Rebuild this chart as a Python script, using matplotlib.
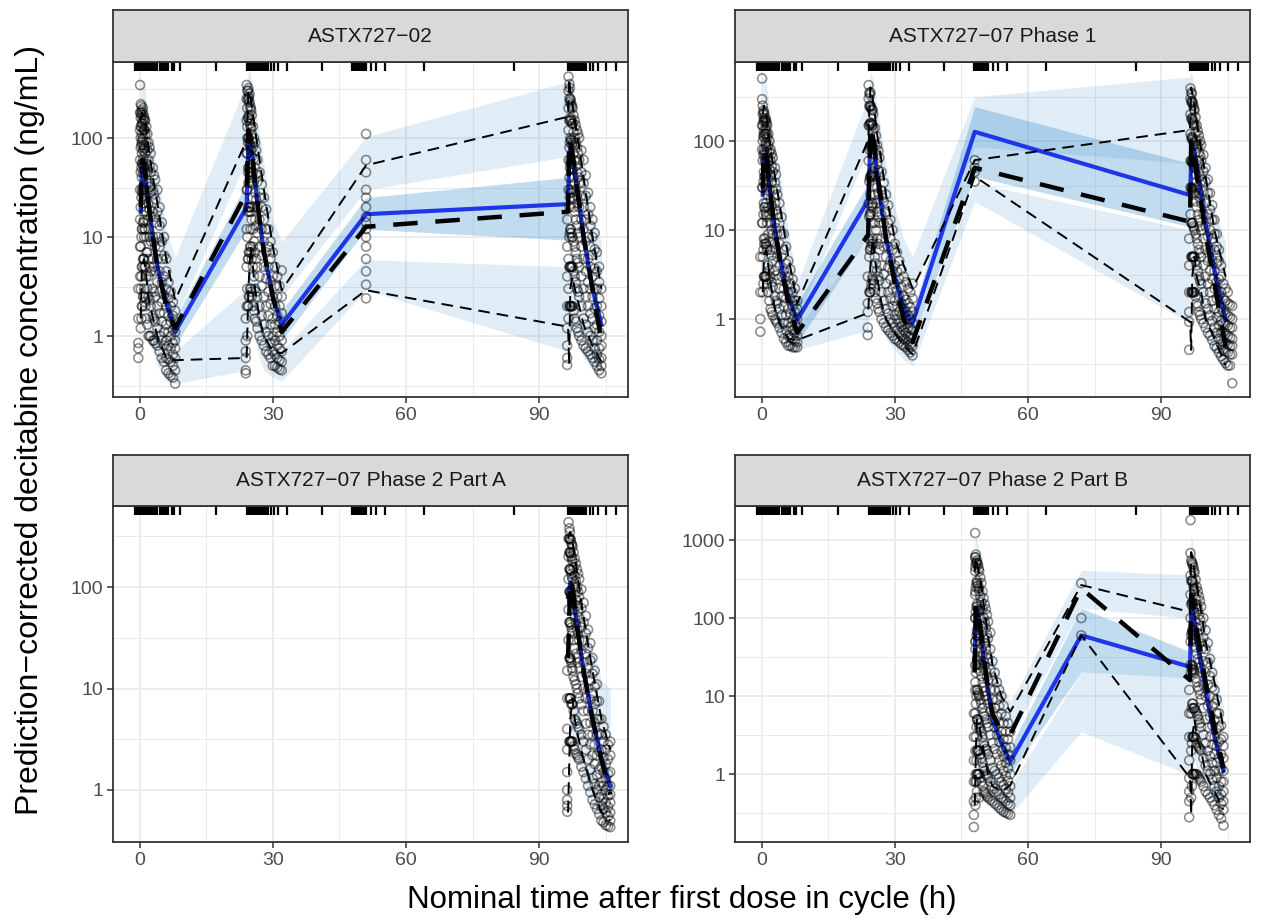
import numpy as np
import matplotlib.pyplot as plt

plt.rcParams['font.family'] = ['Liberation Sans', 'DejaVu Sans']

# ---- panel titles / axes ----
titles = ['ASTX727\u221202', 'ASTX727\u221207 Phase 1',
          'ASTX727\u221207 Phase 2 Part A', 'ASTX727\u221207 Phase 2 Part B']
x_ticks = [0, 30, 60, 90]
x_minor = [15, 45, 75, 105]

# bin separators shown as rug at top (same in all panels)
rug_t = [-1.1, -0.8, -0.5, -0.2, 0.1, 0.4, 0.7, 1.0, 1.3, 1.6, 2.0, 2.4, 2.8, 3.2, 3.6, 4.0,
         4.5, 5.0, 5.5, 6.0, 6.5, 7.2, 7.7, 9.0, 17.2,
         24.2, 24.5, 24.8, 25.1, 25.4, 25.8, 26.2, 26.6, 27.0, 27.5, 28.0, 28.5, 29.0, 29.5,
         30.3, 31.2, 33.2, 41.0,
         47.9, 48.2, 48.5, 48.8, 49.1, 49.4, 49.8, 50.2, 50.6, 51.0, 52.0, 53.3, 55.2,
         64.1, 84.3,
         96.5, 96.8, 97.1, 97.4, 97.7, 98.0, 98.4, 98.8, 99.2, 99.6, 100.0, 100.6,
         101.4, 102.2, 103.3, 105.1, 107.4]

# ---- panel 1: ASTX727-02 ----
p1_t = [0.25, 0.5, 1, 1.5, 2, 3, 4, 6, 8,
        24.1, 24.5, 25, 25.5, 26, 27, 28, 30, 32,
        51,
        96.5, 96.75, 97, 97.5, 98, 99, 100, 102, 104]
p1_obs_hi = [150, 180, 170, 120, 80, 40, 22, 6, 2.3, 95, 300, 250, 180, 120, 60, 30, 8, 2.9,
             53, 164, 400, 300, 220, 150, 80, 40, 10, 3]
p1_obs_md = [20, 60, 55, 35, 22, 10, 5, 2, 1.2, 28, 120, 100, 60, 35, 15, 7, 2.5, 1.1,
             12.7, 18, 100, 90, 70, 45, 22, 10, 3, 0.9]
p1_obs_lo = [1.5, 5, 6, 4, 2.5, 1.5, 1, 0.6, 0.57, 0.6, 3, 8, 5, 3, 1.5, 1, 0.7, 0.67,
             2.9, 1.24, 0.51, 3, 4, 3, 2, 1.3, 0.8, 0.55]
p1_sim_md = [18, 50, 55, 35, 22, 10, 5, 2.2, 1.1, 20, 90, 90, 60, 35, 15, 7, 2.5, 1.3,
             17, 21.5, 67, 80, 65, 45, 22, 10, 3, 1.3]
p1_hi_lo = [60, 100, 100, 70, 45, 22, 12, 3, 1.5, 60, 200, 180, 120, 70, 35, 17, 5, 2.5,
            30, 65, 200, 200, 150, 100, 50, 25, 6, 2]
p1_hi_hi = [350, 400, 350, 250, 160, 80, 45, 12, 6.3, 360, 500, 450, 320, 220, 110, 55, 15, 9,
            103, 370, 500, 450, 350, 250, 130, 65, 18, 8.7]
p1_md_lo = [10, 35, 40, 25, 15, 7, 3.5, 1.6, 0.8, 12, 60, 60, 40, 25, 10, 5, 1.8, 0.9,
            12, 9.3, 45, 55, 45, 30, 15, 7, 2, 0.9]
p1_md_hi = [30, 70, 75, 50, 32, 14, 7, 3, 1.5, 35, 130, 120, 85, 50, 22, 10, 3.5, 1.8,
            25, 40, 100, 110, 90, 60, 30, 14, 4, 1.6]
p1_lo_lo = [0.8, 1.5, 2, 1.5, 1, 0.7, 0.5, 0.35, 0.33, 0.45, 1, 1.5, 1.2, 0.9, 0.6, 0.45, 0.38, 0.35,
            2.9, 0.7, 0.5, 1, 1.2, 1, 0.8, 0.6, 0.45, 0.4]
p1_lo_hi = [4, 8, 10, 7, 5, 3, 2, 1, 0.7, 3, 6, 10, 8, 5, 3, 2, 1, 0.7,
            5.9, 5, 4, 8, 8, 6, 4, 2.5, 1.2, 0.7]
p1_obs = [
    (-0.3, [0.6, 0.75, 0.85, 1.5, 3]),
    (0.1, [4, 8, 15, 30, 60, 120, 343, 180]),
    (0.25, [1.2, 3, 8, 20, 45, 80, 130, 180, 220, 160, 100]),
    (0.4, [1.5, 4, 10, 25, 50, 85, 130, 170, 210]),
    (0.5, [2, 5, 12, 30, 55, 90, 140, 190, 70, 110, 40]),
    (0.6, [2, 5, 12, 28, 55, 95, 140, 180]),
    (0.75, [2.5, 6, 14, 32, 60, 100, 150, 200, 45, 75]),
    (0.9, [2.5, 6, 14, 30, 55, 85, 125, 170]),
    (1.0, [3, 6, 15, 30, 50, 80, 120, 160, 22, 10]),
    (1.1, [2.2, 5, 12, 26, 48, 78, 120, 150]),
    (1.25, [2, 5, 12, 25, 45, 70, 110, 150, 18]),
    (1.5, [1.5, 4, 10, 20, 35, 55, 90, 130, 7]),
    (1.75, [1.3, 3, 7, 15, 28, 45, 75, 110]),
    (2.0, [1, 2.5, 6, 12, 22, 35, 60, 90, 4]),
    (2.25, [1, 2.3, 5, 10, 19, 32, 52, 80]),
    (2.5, [1, 2, 4.5, 9, 16, 28, 45, 70]),
    (3.0, [0.9, 1.6, 3, 6, 10, 18, 30, 50]),
    (3.25, [0.9, 1.5, 2.8, 5, 9, 16, 27, 42]),
    (3.5, [0.85, 1.4, 2.5, 4.5, 8, 14, 24, 38]),
    (4.0, [0.8, 1.2, 2, 3.5, 6, 10, 18, 30]),
    (4.5, [0.7, 1, 1.7, 2.8, 4.5, 8, 13, 20]),
    (5.0, [0.6, 0.9, 1.4, 2.2, 3.5, 6, 9, 14]),
    (5.5, [0.55, 0.8, 1.1, 1.7, 2.6, 4, 6.5, 10]),
    (6.0, [0.45, 0.6, 0.9, 1.3, 2, 3, 4.5, 6]),
    (6.5, [0.42, 0.58, 0.8, 1.1, 1.6, 2.4, 3.5]),
    (7.0, [0.4, 0.55, 0.75, 1, 1.4, 2, 2.8]),
    (7.5, [0.38, 0.5, 0.65, 0.85, 1.15, 1.6, 2.2]),
    (8.0, [0.33, 0.45, 0.6, 0.75, 0.9, 1.1, 1.4, 1.8]),
    (23.9, [0.42, 0.45, 0.6, 0.7, 0.9, 1.5]),
    (24.1, [2, 5, 12, 30, 70, 150, 343, 250]),
    (24.25, [1, 3, 10, 30, 70, 130, 200, 300, 100]),
    (24.4, [2, 6, 18, 45, 90, 160, 240, 300]),
    (24.5, [2, 6, 20, 50, 100, 160, 250, 320, 35]),
    (24.6, [2.5, 7, 20, 50, 100, 170, 260]),
    (24.75, [2.5, 7, 18, 45, 90, 150, 230, 280]),
    (24.9, [3, 8, 20, 45, 85, 140, 210]),
    (25.0, [3, 8, 20, 45, 80, 130, 200, 12]),
    (25.1, [2.8, 7, 18, 40, 75, 125, 190]),
    (25.25, [2.5, 6, 15, 35, 65, 110, 170]),
    (25.5, [2, 5, 12, 25, 45, 80, 130, 8]),
    (25.75, [1.8, 4, 9, 20, 36, 62, 100]),
    (26.0, [1.5, 3, 7, 15, 28, 50, 90]),
    (26.25, [1.4, 2.8, 6, 13, 24, 43, 75]),
    (26.5, [1.2, 2.5, 5, 11, 20, 36, 60]),
    (27.0, [1, 2, 4, 8, 15, 25, 45]),
    (27.5, [0.9, 1.6, 3.2, 6.5, 12, 20, 34]),
    (28.0, [0.8, 1.3, 2.5, 5, 9, 15, 25]),
    (28.5, [0.7, 1.1, 2, 3.8, 7, 12, 19]),
    (29.0, [0.65, 1, 1.6, 2.8, 5, 8, 12]),
    (29.5, [0.6, 0.85, 1.3, 2.1, 3.6, 6, 9]),
    (30.0, [0.5, 0.7, 1, 1.5, 2.5, 4, 7]),
    (30.5, [0.5, 0.65, 0.9, 1.3, 2, 3.2, 5]),
    (31.0, [0.48, 0.6, 0.8, 1.1, 1.6, 2.5, 4]),
    (31.5, [0.46, 0.57, 0.75, 1, 1.4, 2, 3.2]),
    (32.0, [0.45, 0.55, 0.7, 0.9, 1.2, 1.7, 2.5, 4.6]),
    (51.0, [2.4, 3.3, 4.5, 6, 8, 10, 12, 14, 16, 20, 25, 30, 45, 60, 110]),
    (96.3, [0.51, 0.6, 0.8, 1.2, 2, 4, 8, 15]),
    (96.6, [1.5, 3, 6, 30, 60, 120, 200, 300, 417]),
    (96.8, [2, 5, 10, 20, 40, 80, 150, 250, 350]),
    (96.9, [2, 5, 11, 25, 50, 90, 150, 230, 320]),
    (97.0, [2, 5, 12, 30, 60, 100, 160, 250]),
    (97.1, [2, 5, 12, 28, 55, 95, 155, 240]),
    (97.25, [2, 5, 11, 28, 55, 95, 150, 220]),
    (97.4, [2, 5, 10, 24, 48, 85, 140, 210]),
    (97.5, [2, 5, 10, 25, 50, 90, 140, 200]),
    (97.75, [1.8, 4.5, 9, 20, 40, 70, 115, 170]),
    (98.0, [1.5, 4, 8, 18, 35, 60, 100, 150]),
    (98.25, [1.4, 3.5, 7, 15, 30, 52, 90, 135]),
    (98.5, [1.2, 3, 6, 13, 26, 45, 80, 120]),
    (98.75, [1.1, 2.8, 5.5, 11, 22, 40, 70, 110]),
    (99.0, [1, 2.5, 5, 10, 20, 35, 60, 100]),
    (99.5, [0.9, 2, 4, 8, 15, 26, 45, 75]),
    (100.0, [0.8, 1.5, 3, 6, 12, 20, 35, 60]),
    (100.5, [0.75, 1.3, 2.5, 4.5, 9, 15, 26, 42]),
    (101.0, [0.7, 1.1, 2, 3.5, 6, 10, 17, 28]),
    (101.5, [0.65, 1, 1.7, 3, 5, 8, 13, 20]),
    (102.0, [0.6, 0.9, 1.5, 2.5, 4, 6.6, 10, 15]),
    (102.5, [0.55, 0.75, 1.2, 1.9, 3, 4.8, 7.5, 11]),
    (103.0, [0.5, 0.65, 0.9, 1.3, 2, 3, 4.5, 7]),
    (103.5, [0.45, 0.58, 0.75, 1.1, 1.6, 2.4, 3.5, 5]),
    (104.0, [0.42, 0.5, 0.6, 0.8, 1, 1.4, 2, 3]),
]

# ---- panel 2: ASTX727-07 Phase 1 ----
p2_t = [0.25, 0.5, 1, 1.5, 2, 3, 4, 6, 8,
        24, 24.5, 25, 25.5, 26, 27, 28, 30, 32, 34,
        48,
        96.5, 96.75, 97, 97.5, 98, 99, 100, 102, 104.5]
p2_obs_hi = [200, 250, 200, 130, 80, 40, 20, 5, 1.5, 102, 400, 300, 200, 120, 60, 25, 8, 4, 2.2,
             61, 133, 400, 350, 250, 160, 80, 40, 10, 3]
p2_obs_md = [30, 80, 70, 45, 25, 10, 5, 1.5, 0.7, 8.8, 150, 120, 80, 45, 20, 8, 2.5, 1, 0.55,
             50, 12.4, 100, 90, 65, 40, 20, 9, 2.5, 0.49]
p2_obs_lo = [2, 5, 6, 4, 2.5, 1.3, 0.9, 0.6, 0.58, 1.17, 4, 8, 5, 3, 1.5, 1, 0.7, 0.5, 0.4,
             40, 0.93, 0.45, 3, 5, 3, 2, 1, 0.6, 0.3]
p2_sim_md = [25, 70, 65, 40, 25, 10, 5, 1.8, 0.97, 21.7, 100, 100, 70, 40, 18, 8, 3, 1.3, 0.9,
             127, 24.7, 60, 90, 75, 50, 25, 12, 3.5, 0.97]
p2_hi_lo = [100, 150, 130, 90, 55, 28, 14, 3, 1, 80, 250, 200, 140, 80, 40, 18, 6, 3, 2,
            86, 56, 250, 220, 170, 110, 55, 28, 7, 2]
p2_hi_hi = [500, 600, 450, 300, 180, 90, 45, 10, 2.5, 316, 600, 500, 380, 250, 120, 55, 18, 8, 5,
            315, 525, 600, 550, 400, 280, 140, 70, 18, 7.2]
p2_md_lo = [15, 45, 45, 28, 17, 7, 3.5, 1.2, 0.54, 8.4, 70, 70, 50, 28, 12, 5, 2, 0.9, 0.6,
            40, 10.9, 40, 60, 50, 35, 17, 8, 2.3, 0.7]
p2_md_hi = [40, 100, 90, 60, 35, 15, 7, 2.5, 1.5, 33.7, 150, 140, 100, 55, 25, 11, 4, 1.8, 1.2,
            243, 56, 90, 130, 110, 75, 36, 17, 5, 1.4]
p2_lo_lo = [1, 2, 3, 2, 1.5, 0.9, 0.6, 0.45, 0.45, 0.75, 1.5, 2.5, 2, 1.4, 0.9, 0.6, 0.45, 0.35, 0.3,
            21, 0.9, 0.5, 1.5, 2, 1.5, 1, 0.7, 0.4, 0.25]
p2_lo_hi = [6, 12, 14, 9, 6, 3, 2, 1, 0.8, 8, 10, 15, 10, 7, 4, 2.5, 1.3, 0.8, 0.6,
            34, 10, 5, 10, 10, 7, 4.5, 2.5, 1.2, 0.6]
p2_obs = [
    (-0.3, [0.72, 1, 2, 5]),
    (0.1, [12, 30, 80, 150, 295, 505]),
    (0.25, [2, 5, 12, 30, 60, 100, 150, 200, 250]),
    (0.4, [2.5, 6, 15, 35, 70, 115, 165, 220]),
    (0.5, [3, 8, 20, 45, 80, 130, 180, 210, 110]),
    (0.6, [3, 7, 18, 40, 75, 120, 170, 200]),
    (0.75, [3, 8, 18, 40, 70, 120, 170, 60]),
    (0.9, [3, 7, 16, 33, 60, 95, 140, 180]),
    (1.0, [3, 7, 15, 30, 55, 90, 130, 170, 20]),
    (1.1, [2.8, 6.5, 14, 28, 50, 85, 120, 160]),
    (1.25, [2.5, 6, 12, 25, 45, 75, 110, 150]),
    (1.5, [2, 4, 9, 18, 35, 60, 90, 120]),
    (1.75, [1.6, 3.5, 7.5, 15, 28, 48, 75, 100]),
    (2.0, [1.3, 3, 6, 12, 22, 40, 60, 80]),
    (2.25, [1.2, 2.6, 5.2, 10, 19, 34, 52, 72]),
    (2.5, [1.1, 2.3, 4.5, 9, 16, 28, 45, 65]),
    (3.0, [1, 1.8, 3.5, 7, 12, 20, 34, 50]),
    (3.25, [0.95, 1.6, 3.1, 6, 10.5, 17, 29, 42]),
    (3.5, [0.9, 1.5, 2.8, 5, 9, 15, 25]),
    (4.0, [0.8, 1.3, 2.2, 4, 7, 12, 20]),
    (4.5, [0.7, 1.1, 1.8, 3, 5, 9, 14]),
    (5.0, [0.6, 0.9, 1.4, 2.2, 3.5, 6, 9]),
    (5.5, [0.55, 0.75, 1.1, 1.7, 2.7, 4.2, 6.5]),
    (6.0, [0.5, 0.65, 0.9, 1.3, 2, 3, 4.5]),
    (6.5, [0.5, 0.62, 0.82, 1.15, 1.7, 2.5, 3.6]),
    (7.0, [0.48, 0.6, 0.75, 1, 1.4, 2, 2.8]),
    (7.5, [0.48, 0.57, 0.7, 0.9, 1.2, 1.6, 2.2]),
    (8.0, [0.48, 0.55, 0.65, 0.8, 1, 1.3, 1.6]),
    (23.9, [0.66, 0.8, 1.2, 1.5, 3]),
    (24.1, [8, 20, 60, 150, 300, 425]),
    (24.25, [2, 5, 14, 35, 80, 150, 250, 350]),
    (24.4, [2, 6, 15, 38, 85, 155, 240, 330]),
    (24.5, [2, 6, 15, 40, 90, 160, 250, 350, 25]),
    (24.6, [2.2, 6.5, 16, 40, 88, 158, 245]),
    (24.75, [2.5, 7, 18, 42, 90, 155, 230]),
    (24.9, [2.8, 7.5, 19, 43, 88, 150, 225]),
    (25.0, [3, 8, 20, 45, 90, 150, 220, 12]),
    (25.1, [2.7, 7, 18, 40, 80, 135, 200]),
    (25.5, [2, 5, 12, 25, 50, 90, 140]),
    (25.75, [1.7, 4.2, 10, 20, 40, 70, 115]),
    (26.0, [1.5, 3.5, 8, 16, 30, 55, 90]),
    (26.25, [1.3, 3, 7, 14, 26, 47, 78]),
    (26.5, [1.2, 2.7, 6, 12, 22, 40, 65]),
    (27.0, [1, 2, 4, 8, 15, 28, 45]),
    (27.5, [0.9, 1.6, 3.2, 6.5, 12, 21, 34]),
    (28.0, [0.8, 1.3, 2.5, 5, 9, 16, 25]),
    (28.5, [0.75, 1.15, 2, 3.8, 6.5, 12, 19]),
    (29.0, [0.7, 1, 1.7, 2.8, 4.5, 8, 13]),
    (29.5, [0.65, 0.9, 1.4, 2.2, 3.5, 6, 10]),
    (30.0, [0.6, 0.8, 1.1, 1.6, 2.5, 4, 7]),
    (30.5, [0.58, 0.75, 1, 1.4, 2.1, 3.4, 5.6]),
    (31.0, [0.55, 0.7, 0.9, 1.2, 1.8, 2.8, 4.5]),
    (31.5, [0.52, 0.65, 0.82, 1.1, 1.5, 2.3, 3.6]),
    (32.0, [0.5, 0.6, 0.75, 0.95, 1.3, 1.8, 3]),
    (32.5, [0.48, 0.58, 0.7, 0.88, 1.2, 1.65, 2.6]),
    (33.0, [0.45, 0.55, 0.65, 0.8, 1.1, 1.5, 2.2]),
    (33.5, [0.42, 0.52, 0.62, 0.78, 1, 1.35, 2]),
    (34.0, [0.39, 0.5, 0.6, 0.75, 0.9, 1.2, 1.7, 2.5]),
    (48.0, [35, 45, 50, 61]),
    (96.3, [0.45, 0.93, 1.2, 2, 4, 8]),
    (96.6, [15, 30, 60, 120, 200, 300, 390]),
    (96.8, [2, 5, 12, 30, 60, 110, 180, 280, 350]),
    (96.9, [2, 5, 12, 28, 58, 105, 175, 270, 340]),
    (97.0, [2, 5, 12, 30, 60, 110, 180, 280]),
    (97.1, [2, 5, 12, 29, 58, 105, 170, 265]),
    (97.25, [2, 5, 11, 27, 55, 100, 160, 250]),
    (97.4, [2, 5, 10.5, 26, 52, 95, 155, 230]),
    (97.5, [2, 5, 10, 25, 50, 90, 150, 220]),
    (97.75, [1.8, 4.5, 9, 21, 42, 75, 125, 185]),
    (98.0, [1.5, 4, 8, 18, 35, 60, 100, 150]),
    (98.25, [1.4, 3.5, 7, 15, 30, 52, 88, 130]),
    (98.5, [1.2, 3, 6, 13, 26, 45, 75, 115]),
    (98.75, [1.1, 2.7, 5.5, 11, 23, 40, 68, 100]),
    (99.0, [1, 2.5, 5, 10, 20, 35, 60, 90]),
    (99.5, [0.9, 2, 4, 8, 15, 27, 46, 70]),
    (100.0, [0.8, 1.5, 3, 6, 11, 20, 35, 50]),
    (100.5, [0.7, 1.3, 2.5, 4.5, 8.5, 15, 26, 37]),
    (101.0, [0.65, 1.1, 2, 3.5, 6, 10, 17, 26]),
    (101.5, [0.58, 0.95, 1.6, 2.8, 4.6, 8, 13, 19]),
    (102.0, [0.5, 0.8, 1.3, 2.2, 3.5, 6, 9, 13]),
    (102.5, [0.47, 0.7, 1.05, 1.7, 2.6, 4.2, 6.5, 9]),
    (103.0, [0.42, 0.6, 0.85, 1.2, 1.8, 2.8, 4.5, 6]),
    (103.5, [0.38, 0.52, 0.7, 0.95, 1.35, 2, 3, 4]),
    (104.0, [0.35, 0.45, 0.55, 0.7, 0.9, 1.2, 1.7, 2.5]),
    (104.5, [0.32, 0.43, 0.54, 0.68, 0.88, 1.15, 1.6, 2.2]),
    (105.0, [0.3, 0.42, 0.52, 0.65, 0.85, 1.1, 1.5, 2]),
    (105.5, [0.3, 0.4, 0.5, 0.62, 0.8, 1.05, 1.45]),
    (106.0, [0.19, 0.4, 0.5, 0.6, 0.8, 1, 1.4]),
]

# ---- panel 3: ASTX727-07 Phase 2 Part A ----
p3_t = [96.5, 97, 97.5, 98, 99, 100, 102, 104, 106]
p3_obs_hi = [300, 350, 280, 200, 100, 50, 15, 5, 2.5]
p3_obs_md = [20, 120, 100, 60, 30, 15, 5, 2, 0.9]
p3_obs_lo = [0.6, 5, 8, 5, 3, 2, 1, 0.6, 0.5]
p3_sim_md = [80, 110, 90, 60, 30, 15, 5, 2, 1.1]
p3_hi_lo = [150, 200, 180, 130, 70, 35, 10, 3.5, 2]
p3_hi_hi = [400, 400, 300, 200, 120, 60, 25, 12, 10]
p3_md_lo = [50, 80, 70, 45, 22, 11, 3.5, 1.4, 0.8]
p3_md_hi = [110, 150, 120, 80, 40, 20, 7, 2.8, 1.5]
p3_lo_lo = [0.5, 2, 3, 2.5, 1.8, 1.2, 0.7, 0.45, 0.45]
p3_lo_hi = [2, 8, 12, 9, 6, 4, 2, 1, 0.7]
p3_obs = [
    (96.3, [0.61, 0.7, 0.8, 1, 1.5, 2.5, 4, 8, 15]),
    (96.6, [30, 60, 120, 200, 300, 437]),
    (96.8, [3, 8, 20, 45, 90, 150, 220, 300, 380]),
    (96.9, [3, 8, 20, 45, 90, 150, 220, 300, 350]),
    (97.0, [3, 8, 20, 45, 90, 150, 220, 300]),
    (97.1, [3, 8, 19, 43, 87, 145, 215, 290]),
    (97.25, [3, 7, 18, 40, 80, 135, 200, 270]),
    (97.4, [3, 7, 16, 37, 73, 125, 190, 260]),
    (97.5, [3, 7, 15, 35, 70, 120, 180, 250]),
    (97.75, [2.7, 6, 13, 30, 60, 100, 155, 220]),
    (98.0, [2.5, 5, 12, 25, 50, 85, 130, 190]),
    (98.25, [2.3, 4.8, 11, 22, 44, 75, 115, 170]),
    (98.5, [2.2, 4.5, 10, 20, 38, 65, 100, 150]),
    (98.75, [2.1, 4.2, 9, 18, 34, 57, 90, 135]),
    (99.0, [2, 4, 8, 16, 30, 50, 80, 120]),
    (99.5, [1.7, 3.5, 7, 13, 24, 40, 62, 95]),
    (100.0, [1.5, 3, 6, 10, 18, 30, 45, 70]),
    (100.5, [1.3, 2.5, 4.5, 8, 14, 22, 35, 52]),
    (101.0, [1.1, 2, 3.5, 6, 10, 16, 25, 38]),
    (101.5, [0.95, 1.6, 2.8, 4.6, 7.8, 12, 19, 28]),
    (102.0, [0.8, 1.3, 2.2, 3.5, 6, 9, 14, 20]),
    (102.5, [0.72, 1.15, 1.8, 2.8, 4.6, 7, 10.5, 15]),
    (103.0, [0.65, 1, 1.4, 2.2, 3.5, 5, 7.5, 11]),
    (103.5, [0.58, 0.85, 1.1, 1.6, 2.4, 3.6, 5, 7.5]),
    (104.0, [0.5, 0.7, 0.9, 1.2, 1.7, 2.5, 3.5, 5]),
    (104.5, [0.48, 0.65, 0.82, 1.1, 1.5, 2.1, 3, 4.2]),
    (105.0, [0.45, 0.6, 0.75, 1, 1.3, 1.8, 2.5, 3.5]),
    (105.5, [0.44, 0.55, 0.68, 0.88, 1.1, 1.45, 2, 2.8]),
    (106.0, [0.43, 0.5, 0.6, 0.75, 0.9, 1.1, 1.5, 2.2, 3]),
]

# ---- panel 4: ASTX727-07 Phase 2 Part B ----
p4_t = [48, 48.25, 48.5, 49, 49.5, 50, 51, 52, 54, 56,
        72,
        96.5, 96.75, 97, 97.5, 98, 99, 100, 102, 104]
p4_obs_hi = [400, 600, 500, 350, 250, 150, 60, 25, 10, 6.3, 265,
             120, 700, 600, 400, 250, 120, 50, 15, 4]
p4_obs_md = [20, 150, 150, 100, 60, 35, 12, 6, 3.5, 3.2, 240,
             16, 200, 180, 120, 70, 35, 15, 4, 1.2]
p4_obs_lo = [0.4, 2, 5, 4, 3, 2, 1, 0.7, 0.6, 0.72, 60,
             0.89, 0.3, 3, 5, 3, 2, 1, 0.6, 0.35]
p4_sim_md = [30, 130, 130, 90, 55, 30, 12, 5, 2.5, 1.44, 60,
             23.7, 150, 140, 90, 50, 25, 12, 3, 1.1]
p4_hi_lo = [200, 400, 350, 250, 160, 90, 35, 12, 5, 3, 134,
            100, 500, 450, 300, 180, 90, 40, 10, 3]
p4_hi_hi = [900, 1100, 1000, 700, 450, 260, 100, 40, 15, 8.4, 410,
            356, 1200, 1000, 700, 450, 220, 100, 25, 7.6]
p4_md_lo = [15, 80, 90, 60, 35, 20, 8, 3.5, 1.8, 1, 20.5,
            17, 90, 100, 65, 35, 18, 8, 2, 0.9]
p4_md_hi = [50, 200, 200, 130, 80, 45, 17, 7, 3.2, 2.2, 134,
            37, 220, 200, 130, 75, 38, 17, 4.5, 1.5]
p4_lo_lo = [0.3, 1, 2, 1.5, 1.2, 0.9, 0.6, 0.45, 0.35, 0.3, 3.5,
            0.97, 0.3, 1, 1.5, 1.2, 0.9, 0.6, 0.4, 0.3]
p4_lo_hi = [3, 8, 12, 9, 7, 5, 3, 1.5, 0.9, 0.7, 20.5,
            17, 5, 10, 10, 7, 4.5, 2.5, 1.2, 0.6]
p4_obs = [
    (47.8, [0.21, 0.3, 0.45, 0.8, 1.5, 3, 6]),
    (48.1, [12, 25, 50, 100, 200, 400, 600, 1230]),
    (48.15, [0.4, 0.8, 2, 6, 15, 40, 100, 220, 450, 600]),
    (48.25, [0.5, 1, 3, 8, 20, 50, 120, 250, 500, 650]),
    (48.4, [0.8, 1.5, 4, 10, 25, 60, 140, 280, 520]),
    (48.5, [1, 2, 5, 12, 30, 70, 150, 300, 550, 0.6]),
    (48.6, [1, 2, 5, 12, 29, 65, 140, 280, 500]),
    (48.75, [1, 2, 5, 11, 28, 60, 130, 260, 480]),
    (48.9, [1, 2, 4.5, 10.5, 26, 58, 125, 240, 430]),
    (49.0, [1, 2, 4, 10, 25, 55, 120, 220, 400, 0.5]),
    (49.25, [0.9, 1.8, 3.8, 9, 21, 47, 100, 190, 330]),
    (49.5, [0.8, 1.6, 3.5, 8, 18, 40, 80, 160, 280]),
    (49.75, [0.7, 1.4, 3, 7, 15, 33, 66, 130, 220]),
    (50.0, [0.6, 1.2, 2.5, 6, 13, 28, 55, 100, 180]),
    (50.25, [0.58, 1.1, 2.3, 5.5, 11.5, 24, 47, 88, 150]),
    (50.5, [0.55, 1, 2.1, 5, 10, 21, 40, 75, 130]),
    (50.75, [0.52, 0.95, 2, 4.5, 9, 18, 34, 62, 110]),
    (51.0, [0.5, 0.9, 1.8, 4, 8, 16, 30, 55, 90]),
    (51.5, [0.47, 0.8, 1.5, 3.2, 6.5, 12, 22, 40, 65]),
    (52.0, [0.45, 0.7, 1.2, 2.5, 5, 9, 16, 28]),
    (52.5, [0.42, 0.65, 1.1, 2.1, 4, 7, 12, 20]),
    (53.0, [0.4, 0.6, 1, 1.8, 3.2, 5.5, 9, 15]),
    (53.5, [0.37, 0.55, 0.9, 1.5, 2.6, 4.5, 7.5, 12]),
    (54.0, [0.35, 0.5, 0.8, 1.3, 2, 3.5, 6, 10]),
    (54.5, [0.33, 0.48, 0.72, 1.1, 1.7, 2.8, 4.5, 7.5]),
    (55.0, [0.32, 0.45, 0.65, 0.95, 1.4, 2.2, 3.5, 5.5]),
    (55.5, [0.31, 0.42, 0.58, 0.82, 1.2, 1.8, 2.8, 4.5]),
    (56.0, [0.3, 0.4, 0.5, 0.7, 1, 1.5, 2.2, 3.5]),
    (72.0, [60, 100, 280]),
    (96.3, [0.28, 0.45, 0.6, 0.89, 1.5, 3, 6, 12]),
    (96.6, [25, 50, 100, 200, 350, 680, 1800]),
    (96.75, [0.5, 2, 6, 20, 60, 150, 300, 550]),
    (96.9, [0.7, 2.5, 7, 22, 65, 155, 300, 520]),
    (97.0, [1, 3, 8, 25, 70, 160, 300, 500]),
    (97.1, [1, 3, 8, 24, 68, 155, 290, 480]),
    (97.25, [1, 3, 7, 22, 60, 130, 260, 450]),
    (97.4, [1, 3, 7, 21, 55, 120, 240, 410]),
    (97.5, [1, 3, 7, 20, 50, 110, 220, 380]),
    (97.75, [1, 2.8, 6.5, 17, 42, 90, 180, 310]),
    (98.0, [1, 2.5, 6, 15, 35, 75, 150, 250]),
    (98.25, [0.95, 2.3, 5.5, 13, 30, 64, 130, 220]),
    (98.5, [0.9, 2.2, 5, 12, 27, 55, 110, 190]),
    (98.75, [0.85, 2.1, 4.5, 10.5, 23, 48, 95, 165]),
    (99.0, [0.8, 2, 4, 9, 20, 40, 80, 140]),
    (99.5, [0.7, 1.6, 3.2, 7, 14, 28, 56, 100]),
    (100.0, [0.6, 1.3, 2.5, 5, 10, 20, 40, 70]),
    (100.5, [0.55, 1.1, 2, 4, 7.5, 14, 27, 48]),
    (101.0, [0.5, 1, 1.7, 3, 5.5, 10, 18, 30]),
    (101.5, [0.45, 0.85, 1.4, 2.4, 4.2, 7.5, 13, 20]),
    (102.0, [0.4, 0.7, 1.1, 1.8, 3, 5, 8, 12]),
    (102.5, [0.35, 0.6, 0.9, 1.4, 2.3, 3.8, 6, 9]),
    (103.0, [0.3, 0.5, 0.7, 1.1, 1.6, 2.6, 4, 6]),
    (103.5, [0.27, 0.42, 0.55, 0.8, 1.2, 1.8, 2.8, 4.2]),
    (104.0, [0.22, 0.35, 0.45, 0.6, 0.8, 1.1, 1.6, 2.3, 3]),
]

y_ticks = [[1, 10, 100], [1, 10, 100], [1, 10, 100], [1, 10, 100, 1000]]
y_lims = [(0.242, 586), (0.133, 773), (0.307, 630), (0.135, 2730)]

panels = [
    (p1_t, p1_obs_lo, p1_obs_md, p1_obs_hi, p1_sim_md, p1_lo_lo, p1_lo_hi,
     p1_md_lo, p1_md_hi, p1_hi_lo, p1_hi_hi, p1_obs),
    (p2_t, p2_obs_lo, p2_obs_md, p2_obs_hi, p2_sim_md, p2_lo_lo, p2_lo_hi,
     p2_md_lo, p2_md_hi, p2_hi_lo, p2_hi_hi, p2_obs),
    (p3_t, p3_obs_lo, p3_obs_md, p3_obs_hi, p3_sim_md, p3_lo_lo, p3_lo_hi,
     p3_md_lo, p3_md_hi, p3_hi_lo, p3_hi_hi, p3_obs),
    (p4_t, p4_obs_lo, p4_obs_md, p4_obs_hi, p4_sim_md, p4_lo_lo, p4_lo_hi,
     p4_md_lo, p4_md_hi, p4_hi_lo, p4_hi_hi, p4_obs),
]

W, H = 1266, 922


def box(l, t, r, b):
    return [l / W, 1 - b / H, (r - l) / W, (b - t) / H]


panel_px = [(113, 62, 628, 397), (735, 62, 1250, 397),
            (113, 506, 628, 842), (735, 506, 1250, 842)]
strip_px = [(113, 10, 628, 62), (735, 10, 1250, 62),
            (113, 455, 628, 506), (735, 455, 1250, 506)]

fig = plt.figure(figsize=(W / 100, H / 100), dpi=100)

band_col = '#3388cc'
grid_col = '#EBEBEB'
frame_col = '#333333'

for i, p in enumerate(panels):
    t, olo, omd, ohi, smd, llo, lhi, mlo, mhi, hlo, hhi, obs = p
    ax = fig.add_axes(box(*panel_px[i]))
    ax.set_yscale('log')

    # grid
    ax.set_xticks(x_ticks)
    ax.set_xticks(x_minor, minor=True)
    yt = y_ticks[i]
    ax.set_yticks(yt)
    ax.set_yticklabels([str(v) for v in yt])
    ax.set_yticks([0.316, 3.16, 31.6, 316, 3162], minor=True)
    ax.yaxis.set_minor_formatter(plt.NullFormatter())
    ax.grid(True, which='major', color=grid_col, lw=1.3, zorder=0)
    ax.grid(True, which='minor', color=grid_col, lw=0.7, zorder=0)
    ax.set_axisbelow(True)
    ax.tick_params(which='minor', length=0)
    ax.tick_params(which='major', length=4, width=1.1, color=frame_col,
                   labelcolor='#4D4D4D', labelsize=14, pad=3)
    for s in ax.spines.values():
        s.set_color(frame_col)
        s.set_linewidth(1.3)

    # simulated intervals
    ax.fill_between(t, hlo, hhi, color=band_col, alpha=0.15, lw=0, zorder=1)
    ax.fill_between(t, llo, lhi, color=band_col, alpha=0.15, lw=0, zorder=1)
    ax.fill_between(t, mlo, mhi, color=band_col, alpha=0.3, lw=0, zorder=1)
    ax.plot(t, smd, color='#1f36e8', lw=3.0, zorder=2, solid_joinstyle='round')

    # observations
    for tt, vals in obs:
        ax.scatter([tt] * len(vals), vals, s=42, facecolors='none',
                   edgecolors='black', linewidths=1.15, alpha=0.45, zorder=3)

    ax.plot(t, olo, color='black', lw=1.4, dashes=(6, 3.6), zorder=4)
    ax.plot(t, ohi, color='black', lw=1.4, dashes=(6, 3.6), zorder=4)
    ax.plot(t, omd, color='black', lw=3.2, dashes=(5.5, 4), zorder=4)

    # bin separators
    ax.vlines(rug_t, 0.974, 1.0, transform=ax.get_xaxis_transform(),
              color='black', lw=1.6, zorder=5)

    ax.set_xlim(-6, 110)
    ax.set_ylim(*y_lims[i])

    # strip
    sax = fig.add_axes(box(*strip_px[i]))
    sax.set_facecolor('#D9D9D9')
    sax.set_xticks([])
    sax.set_yticks([])
    for s in sax.spines.values():
        s.set_color(frame_col)
        s.set_linewidth(1.3)
    sax.text(0.5, 0.5, titles[i], ha='center', va='center', fontsize=15,
             color='#1A1A1A', transform=sax.transAxes)

fig.text(682 / W, 1 - 900 / H, 'Nominal time after first dose in cycle (h)',
         ha='center', va='center', fontsize=22.5, color='black')
fig.text(30 / W, 1 - 430 / H,
         'Prediction\u2212corrected decitabine concentration (ng/mL)',
         ha='center', va='center', rotation=90, fontsize=23, color='black')

fig.savefig('out.png', dpi=100)
